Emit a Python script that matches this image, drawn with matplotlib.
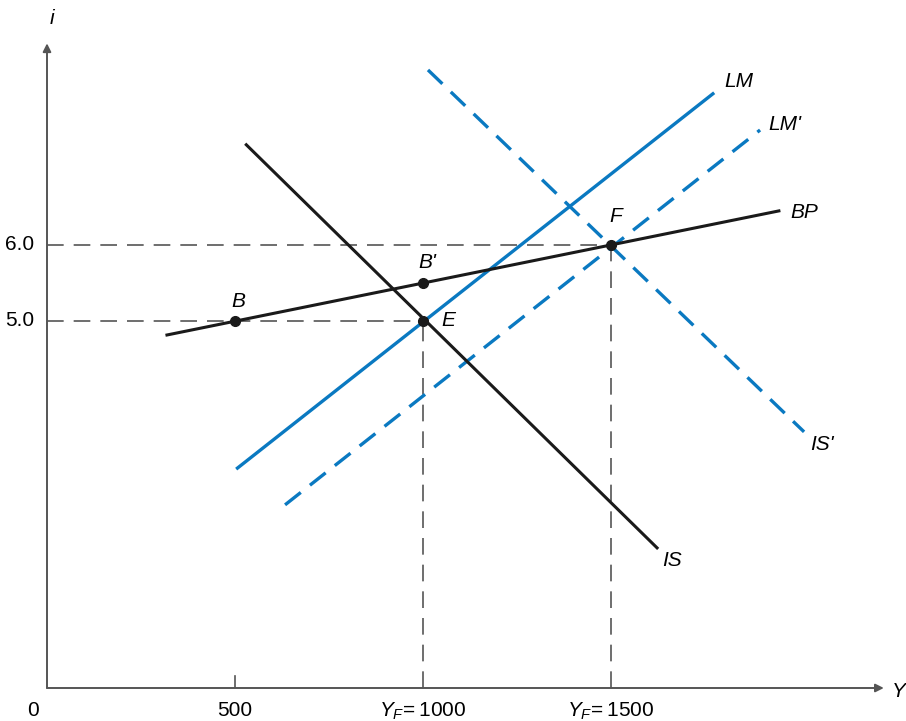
import matplotlib
matplotlib.use("Agg")
import matplotlib.pyplot as plt

# curve endpoints (Y, i)
bp_x = [315, 1950]
bp_y = [4.81, 6.45]
is_x = [527, 1625]
is_y = [7.33, 2.0]
is2_x = [1013, 2013]
is2_y = [8.30, 3.54]
lm_x = [503, 1774]
lm_y = [3.05, 8.0]
lm2_x = [633, 1896]
lm2_y = [2.58, 7.51]

# marked points
pt_names = ["B", "B'", "E", "F"]
pt_x = [500, 1000, 1000, 1500]
pt_y = [5.0, 5.5, 5.0, 6.0]

# ticks
y_ticks = [5.0, 6.0]
y_tick_labels = ["5.0", "6.0"]
x_ticks = [0, 500, 1000, 1500]
x_tick_labels = ["0", "500", r"$Y_F\!=1000$", r"$Y_F\!=1500$"]

BLUE = "#0a79c1"
BLACK = "#1a1a1a"
GRAY = "#555555"

plt.rcParams["font.family"] = ["Liberation Sans", "DejaVu Sans"]
plt.rcParams["mathtext.fontset"] = "custom"
plt.rcParams["mathtext.it"] = "Liberation Sans:italic"
plt.rcParams["mathtext.rm"] = "Liberation Sans"

fig = plt.figure(figsize=(9.06, 7.21), dpi=100)
ax = fig.add_axes([47 / 906, 33 / 721, (906 - 47) / 906, 688 / 721])
ax.set_xlim(0, 2284)
ax.set_ylim(0.171, 9.22)
ax.axis("off")

# guide lines to the axes
guide = dict(color=GRAY, lw=1.2, dashes=(10, 6))
ax.plot([0, 1000], [5.0, 5.0], **guide)
ax.plot([0, 1500], [6.0, 6.0], **guide)
ax.plot([1000, 1000], [0.171, 5.0], **guide)
ax.plot([1500, 1500], [0.171, 6.0], **guide)

# curves
ax.plot(lm_x, lm_y, color=BLUE, lw=2.4, solid_capstyle="butt")
ax.plot(lm2_x, lm2_y, color=BLUE, lw=2.4, dashes=(6, 3.5))
ax.plot(is2_x, is2_y, color=BLUE, lw=2.4, dashes=(6, 3.5))
ax.plot(is_x, is_y, color=BLACK, lw=2.2, solid_capstyle="butt")
ax.plot(bp_x, bp_y, color=BLACK, lw=2.2, solid_capstyle="butt")

ax.plot(pt_x, pt_y, "o", color=BLACK, ms=7, zorder=5)

# axes with arrows
ax.annotate("", xy=(0, 8.65), xytext=(0, 0.171),
            arrowprops=dict(arrowstyle="-|>", color=GRAY, lw=1.4,
                            mutation_scale=12, shrinkA=0, shrinkB=0))
ax.annotate("", xy=(2225, 0.171), xytext=(0, 0.171),
            arrowprops=dict(arrowstyle="-|>", color=GRAY, lw=1.4,
                            mutation_scale=12, shrinkA=0, shrinkB=0))
ax.plot([500, 500], [0.171, 0.33], color=GRAY, lw=1.2)

fs = 15
ax.text(12, 8.98, "i", style="italic", fontsize=fs, ha="center", va="center")
ax.text(2246, 0.12, "Y", style="italic", fontsize=fs, ha="left", va="center",
        clip_on=False)

for v, lab in zip(y_ticks, y_tick_labels):
    ax.text(-72, v, lab, fontsize=15, ha="center", va="center", clip_on=False)
for v, lab in zip(x_ticks, x_tick_labels):
    xx = -37 if v == 0 else v
    ax.text(xx, -0.13, lab, fontsize=15, ha="center", va="center",
            clip_on=False)

# curve labels
curve_labels = [("LM", 1800, 8.15), ("LM'", 1917, 7.58), ("BP", 1976, 6.42),
                ("IS'", 2029, 3.38), ("IS", 1636, 1.85)]
for name, x, y in curve_labels:
    ax.text(x, y, name, style="italic", fontsize=fs, ha="left", va="center")

# point labels
pt_off = [(8, 0.26), (12, 0.27), (48, 0.0), (12, 0.37)]
for name, x, y, (dx, dy) in zip(pt_names, pt_x, pt_y, pt_off):
    ax.text(x + dx, y + dy, name, style="italic", fontsize=fs,
            ha="center" if name != "E" else "left", va="center")

fig.savefig("out.png", dpi=100)
